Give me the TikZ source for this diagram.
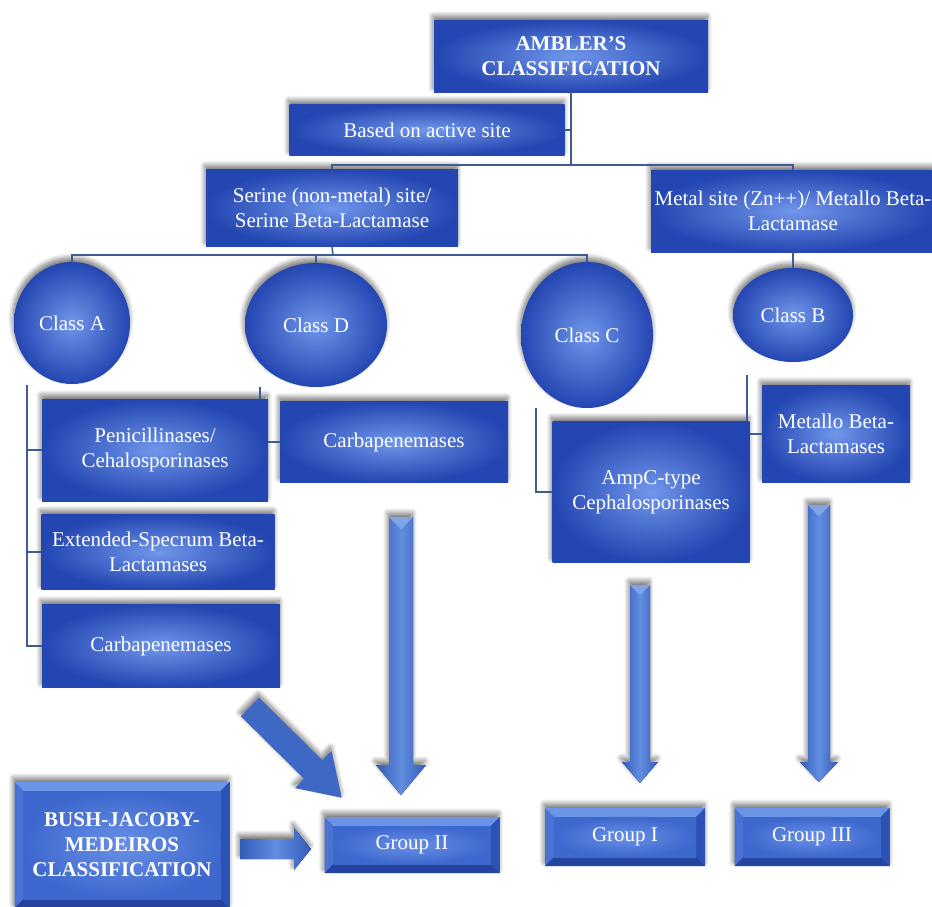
\documentclass[tikz,border=0pt]{standalone}
\usepackage{fontspec}
\setmainfont{Liberation Serif}
\usetikzlibrary{shapes.geometric,shadows.blur,calc}
\definecolor{bdark}{RGB}{36,70,178}
\definecolor{blight}{RGB}{112,150,234}
\definecolor{lineblue}{RGB}{62,92,145}
\definecolor{adark}{RGB}{50,92,186}
\definecolor{alight}{RGB}{98,142,224}
\definecolor{bvtop}{RGB}{108,148,230}
\definecolor{bvleft}{RGB}{74,114,212}
\definecolor{bvright}{RGB}{44,82,182}
\definecolor{bvbot}{RGB}{36,68,160}
\definecolor{bvface}{RGB}{62,104,206}
\tikzset{
  shd/.style={blur shadow={shadow xshift=-1pt,shadow yshift=4pt,shadow blur radius=5pt,shadow blur steps=10,shadow opacity=55}},
  txt/.style={text=white,align=center,inner sep=0pt,font=\fontsize{21}{25}\selectfont},
  box/.style={rectangle,txt,inner color=blight,outer color=bdark,shd},
  circ/.style={ellipse,txt,inner color=blight,outer color=bdark,shd},
  bevelbox/.style={rectangle,txt,fill=bvface,shd,
    path picture={
      \path (path picture bounding box.north west) coordinate (pnw)
            (path picture bounding box.north east) coordinate (pne)
            (path picture bounding box.south west) coordinate (psw)
            (path picture bounding box.south east) coordinate (pse);
      \fill[bvtop] (pnw) -- (pne) -- ([shift={(-9pt,-9pt)}]pne) -- ([shift={(9pt,-9pt)}]pnw) -- cycle;
      \fill[bvleft] (pnw) -- (psw) -- ([shift={(9pt,9pt)}]psw) -- ([shift={(9pt,-9pt)}]pnw) -- cycle;
      \fill[bvright] (pne) -- (pse) -- ([shift={(-9pt,9pt)}]pse) -- ([shift={(-9pt,-9pt)}]pne) -- cycle;
      \fill[bvbot] (psw) -- (pse) -- ([shift={(-9pt,9pt)}]pse) -- ([shift={(9pt,9pt)}]psw) -- cycle;
      \shade[inner color=blight!85!bvface,outer color=bvface] ([shift={(9pt,-9pt)}]pnw) rectangle ([shift={(-9pt,9pt)}]pse);
    }},
  conn/.style={draw=lineblue,line width=1.6pt},
  blockarrow/.style={left color=adark,right color=adark,middle color=alight,draw=none,shd},
  flatarrow/.style={fill=adark!75!alight,draw=none,shd}
}
\newcommand\blockdown[6]{% centre x, top, head start, tip, half shaft, half head
  \fill[blockarrow] ({#1-#5},#2) -- ({#1+#5},#2) -- ({#1+#5},#3) -- ({#1+#6},#3) -- (#1,#4) -- ({#1-#6},#3) -- ({#1-#5},#3) -- cycle;
  \fill[alight!80!white] ({#1-#5},#2) -- ({#1+#5},#2) -- (#1,{#2+#5}) -- cycle;
}
\begin{document}
\begin{tikzpicture}[x=1pt,y=-1pt]
\useasboundingbox (0,0) rectangle (932,906);

% nodes
\node[box,minimum width=274pt,minimum height=72pt] (ambler) at (571,56) {\textbf{AMBLER'S}\\\textbf{CLASSIFICATION}};
\node[box,minimum width=275pt,minimum height=51pt] (based) at (427,130) {Based on active site};
\node[box,minimum width=252pt,minimum height=77pt] (serine) at (332,208) {Serine (non-metal) site/\\Serine Beta-Lactamase};
\node[box,minimum width=284pt,minimum height=82pt] (metal) at (793,211) {Metal site (Zn++)/ Metallo Beta-\\Lactamase};

\node[circ,minimum width=116pt,minimum height=122pt] (classA) at (72,323) {Class A};
\node[circ,minimum width=142pt,minimum height=124pt] (classD) at (316,325) {Class D};
\node[circ,minimum width=132pt,minimum height=146pt] (classC) at (587,335) {Class C};
\node[circ,minimum width=120pt,minimum height=94pt] (classB) at (793,315) {Class B};

\node[box,minimum width=226pt,minimum height=102pt] (pen) at (155,450) {Penicillinases/\\Cehalosporinases};
\node[box,minimum width=228pt,minimum height=81pt] (carbD) at (394,442) {Carbapenemases};
\node[box,minimum width=197pt,minimum height=141pt] (ampc) at (651,492) {AmpC-type\\Cephalosporinases};
\node[box,minimum width=148pt,minimum height=97pt] (metallo) at (836,434) {Metallo Beta-\\Lactamases};
\node[box,minimum width=233pt,minimum height=75pt] (esbl) at (158,552) {Extended-Specrum Beta-\\Lactamases};
\node[box,minimum width=238pt,minimum height=83pt] (carbA) at (161,646) {Carbapenemases};

\node[bevelbox,minimum width=215pt,minimum height=126pt] (bjm) at (122,845) {\textbf{BUSH-JACOBY-}\\\textbf{MEDEIROS}\\\textbf{CLASSIFICATION}};
\node[bevelbox,minimum width=175pt,minimum height=56pt] (group2) at (412,845) {Group II};
\node[bevelbox,minimum width=160pt,minimum height=58pt] (group1) at (625,837) {Group I};
\node[bevelbox,minimum width=155pt,minimum height=58pt] (group3) at (812,837) {Group III};

% connectors
\coordinate (hubA) at (571,165);
\draw[conn] (ambler.south) -- (hubA);
\draw[conn] (based.east) -- (based.east -| hubA);
\draw[conn] (serine.north) -- (serine.north |- hubA) -| (metal.north);
\coordinate (hubB) at (333,255);
\draw[conn] (serine.south) -- (hubB);
\draw[conn] (classA.north) -- (classA.north |- hubB) -| (classC.north);
\draw[conn] (classD.north) -- (classD.north |- hubB);
\draw[conn] (metal.south) -- (classB.north);
\coordinate (dA) at (27,385);
\draw[conn] (dA) |- (carbA.west);
\draw[conn] (dA |- pen.west) -- (pen.west);
\draw[conn] (dA |- esbl.west) -- (esbl.west);
\coordinate (dD) at (260,387);
\draw[conn] (dD) -- (dD |- pen.north);
\draw[conn] (pen.east |- carbD.west) -- (carbD.west);
\coordinate (dC) at (536,408);
\draw[conn] (dC) |- (ampc.west);
\coordinate (dB) at (747,375);
\draw[conn] (dB) -- (dB |- ampc.north);
\draw[conn] (ampc.east |- metallo.west) -- (metallo.west);

% block arrows
\blockdown{401}{517}{765}{795}{12}{25}
\blockdown{640}{585}{762}{783}{10}{18}
\blockdown{819}{505}{762}{782}{11}{19}
\begin{scope}[shift={(250,707)},rotate=-44.7]
  \fill[flatarrow] (0,-13) -- (89,-13) -- (89,-26) -- (129,0) -- (89,26) -- (89,13) -- (0,13) -- cycle;
\end{scope}
\fill[left color=adark,right color=adark,middle color=alight,shading angle=90,shd]
  (240,839) -- (294,839) -- (294,828) -- (311,849) -- (294,870) -- (294,859) -- (240,859) -- cycle;
\end{tikzpicture}
\end{document}
